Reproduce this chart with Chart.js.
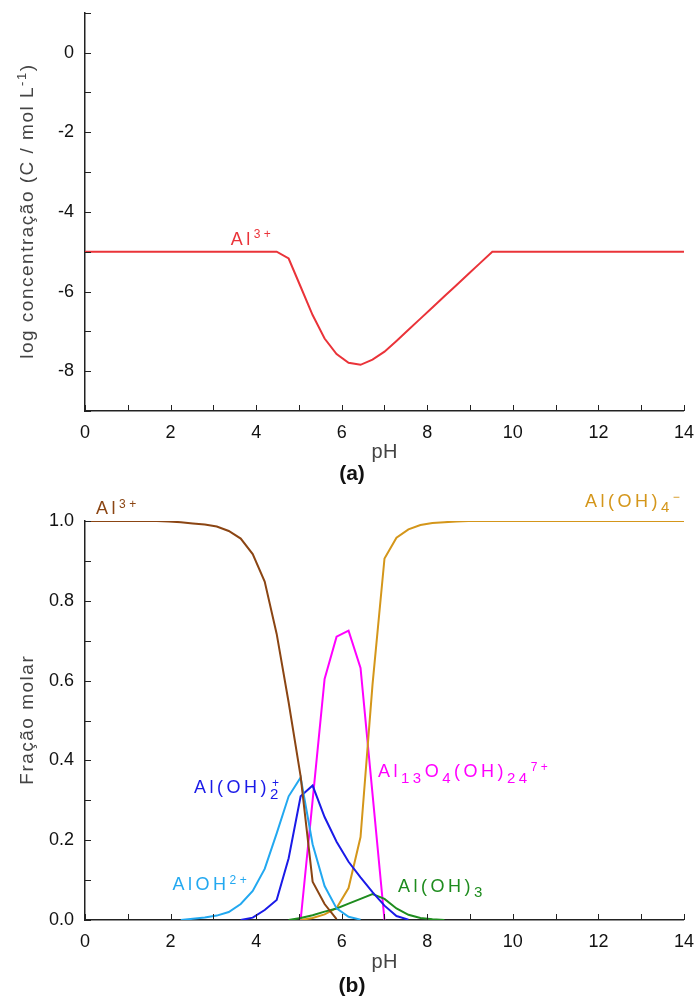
<!DOCTYPE html>
<html><head><meta charset="utf-8">
<script src="https://cdn.jsdelivr.net/npm/chart.js@4.4.1/dist/chart.umd.min.js"></script>
<style>
html,body{margin:0;padding:0;background:#fff;}
#wrap{position:relative;width:699px;height:1000px;overflow:hidden;}
canvas{position:absolute;left:0;}
</style></head><body>
<div id="wrap">
<canvas id="c1" width="705" height="499" style="top:-9px"></canvas>
<canvas id="c2" width="705" height="510" style="top:490px"></canvas>
</div>
<script>
// ---- data ----
const pH = [0,0.28,0.56,0.84,1.12,1.4,1.68,1.96,2.24,2.52,2.8,3.08,3.36,3.64,3.92,4.2,4.48,4.76,5.04,5.32,5.6,5.88,6.16,6.44,6.72,7,7.28,7.56,7.84,8.12,8.4,8.68,8.96,9.24,9.52,9.8,10.08,10.36,10.64,10.92,11.2,11.48,11.76,12.04,12.32,12.6,12.88,13.16,13.44,13.72,14];

const logAl3 = [-5,-5,-5,-5,-5,-5,-5,-5,-5,-5,-5,-5,-5,-5,-5,-5,-5,
  -5.17,-5.88,-6.59,-7.18,-7.57,-7.79,-7.84,-7.71,-7.51,-7.24,-6.96,-6.68,-6.40,-6.12,-5.84,-5.56,-5.28,-5.0,
  -5,-5,-5,-5,-5,-5,-5,-5,-5,-5,-5,-5,-5,-5,-5,-5];

const fracAl3 = [1,1,1,1,1,1,1,0.999,0.997,0.994,0.991,0.986,0.975,0.956,0.917,0.848,0.717,0.545,0.36,0.096,0.04,0.002,
  null,null,null,null,null,null,null,null,null,null,null,null,null,null,null,null,null,null,null,null,null,null,null,null,null,null,null,null,null];
const fracAlOH = [null,null,null,null,null,null,null,null,
  0.0,0.003,0.006,0.011,0.02,0.04,0.073,0.128,0.217,0.31,0.357,0.19,0.085,0.029,0.008,0.001,
  null,null,null,null,null,null,null,null,null,null,null,null,null,null,null,null,null,null,null,null,null,null,null,null,null,null,null];
const fracAlOH2 = [null,null,null,null,null,null,null,null,null,null,null,null,null,
  0.0,0.006,0.025,0.05,0.155,0.31,0.337,0.258,0.196,0.146,0.107,0.07,0.036,0.01,0.001,
  null,null,null,null,null,null,null,null,null,null,null,null,null,null,null,null,null,null,null,null,null,null,null];
const fracAl13 = [null,null,null,null,null,null,null,null,null,null,null,null,null,null,null,null,null,null,
  0.0,0.3,0.604,0.71,0.725,0.632,0.316,0.0,
  null,null,null,null,null,null,null,null,null,null,null,null,null,null,null,null,null,null,null,null,null,null,null,null,null];
const fracAlOH3 = [null,null,null,null,null,null,null,null,null,null,null,null,null,null,null,null,null,
  0.0,0.005,0.012,0.021,0.029,0.041,0.053,0.065,0.053,0.029,0.013,0.005,0.002,0.0,
  null,null,null,null,null,null,null,null,null,null,null,null,null,null,null,null,null,null,null,null];
const fracAlOH4 = [null,null,null,null,null,null,null,null,null,null,null,null,null,null,null,null,null,null,
  0.0,0.005,0.014,0.03,0.08,0.208,0.59,0.906,0.958,0.979,0.99,0.995,0.997,0.999,
  1,1,1,1,1,1,1,1,1,1,1,1,1,1,1,1,1,1,1];

const xTickLabels = [0,2,4,6,8,10,12,14];
const yTickLabelsA = [0,-2,-4,-6,-8];
const yTickLabelsB = ['0.0','0.2','0.4','0.6','0.8','1.0'];

// ---- helpers ----
const FONT = "'Liberation Sans', Arial, Helvetica, sans-serif";
Chart.defaults.font.family = FONT;
const pts = arr => pH.map((x,i)=>({x:x, y:arr[i]}));

function drawRich(ctx, parts, x, y, color, ls, size, align){
  size = size || 18;
  const subSize = Math.round(size*0.83), supSize = Math.round(size*0.67);
  const fnt = m => (m===0? size : (m<0? subSize : supSize)) + 'px ' + FONT;
  let w = 0, lastSubStart = null;
  const layout = [];
  parts.forEach(p => {
    const [txt, mode, stack] = p;
    ctx.font = fnt(mode);
    let cx = (stack && lastSubStart!==null) ? lastSubStart + 2 : w;
    const start = cx;
    for (const ch of txt){
      layout.push({ch, mode, x:cx});
      cx += ctx.measureText(ch).width + ls;
    }
    if (mode<0) lastSubStart = start; else lastSubStart = null;
    w = Math.max(w, cx);
  });
  w -= ls;
  let x0 = x;
  if (align==='center') x0 = x - w/2;
  ctx.fillStyle = color;
  ctx.textBaseline = 'alphabetic';
  ctx.textAlign = 'left';
  layout.forEach(g => {
    ctx.font = fnt(g.mode);
    const dy = g.mode===0 ? 0 : (g.mode<0 ? size*0.3 : -size*0.36);
    ctx.fillText(g.ch, x0 + g.x, y + dy);
  });
}

const deco = {
  id:'deco',
  afterDraw(chart, args, o){
    const ctx = chart.ctx, ca = chart.chartArea;
    const xs = chart.scales.x, ys = chart.scales.y;
    ctx.save();
    ctx.strokeStyle = '#222'; ctx.lineWidth = 1;
    ctx.beginPath();
    xs.ticks.forEach(t => { const px = Math.round(xs.getPixelForValue(t.value))+0.5; ctx.moveTo(px, ca.bottom); ctx.lineTo(px, ca.bottom-6); });
    ys.ticks.forEach(t => { const py = Math.round(ys.getPixelForValue(t.value))+0.5; ctx.moveTo(ca.left, py); ctx.lineTo(ca.left+6, py); });
    ctx.stroke();
    o.labels.forEach(l => drawRich(ctx, l.parts, xs.getPixelForValue(l.x), ys.getPixelForValue(l.y), l.color, 3.5, 18));
    drawRich(ctx, [['pH',0]], (ca.left+ca.right)/2, ca.bottom + o.pHdy, '#444', 0.5, 20, 'center');
    ctx.font = 'bold 21px ' + FONT; ctx.fillStyle = '#111'; ctx.textAlign='center'; ctx.textBaseline='alphabetic';
    ctx.fillText(o.caption, 352, ca.bottom + o.capdy);
    ctx.save();
    ctx.translate(26, (ca.top+ca.bottom)/2);
    ctx.rotate(-Math.PI/2);
    drawRich(ctx, o.ytitle, 0, 7, '#444', 1.5, 19, 'center');
    ctx.restore();
    ctx.restore();
  }
};

function baseScales(xH, ymin, ymax, ystep, ycb){
  return {
    x: { type:'linear', min:0, max:14,
      afterFit: s => { s.height = xH; },
      ticks: { stepSize:1, autoSkip:false, maxRotation:0, padding:11, color:'#111', font:{size:18},
        callback: v => xTickLabels.includes(v) ? String(v) : '' },
      grid: { drawOnChartArea:false, drawTicks:false },
      border: { color:'#222', width:1.5 } },
    y: { type:'linear', min:ymin, max:ymax,
      afterFit: s => { s.width = 85; },
      ticks: { stepSize:ystep, autoSkip:false, padding:11, color:'#111', font:{size:18}, callback: ycb },
      grid: { drawOnChartArea:false, drawTicks:false },
      border: { color:'#222', width:1.5 } }
  };
}
const line = (arr, color) => ({ data: pts(arr), borderColor: color, backgroundColor: color, borderWidth: 2, pointRadius: 0, tension: 0, spanGaps: false });

new Chart(document.getElementById('c1'), {
  type:'line',
  data:{ datasets:[ line(logAl3, '#EA3339') ] },
  options:{
    responsive:false, animation:false, devicePixelRatio:1,
    layout:{ padding:{ top:13, right:15, left:0, bottom:0 } },
    scales: baseScales(79, -9, 1, 1, v => yTickLabelsA.includes(v) ? String(v) : ''),
    plugins:{ legend:{display:false}, tooltip:{enabled:false},
      deco:{ caption:'(a)', pHdy:47, capdy:69,
        ytitle:[['log concentração (C / mol L',0],['-1',1],[')',0]],
        labels:[ {parts:[['Al',0],['3+',1]], x:3.405, y:-4.83, color:'#EA3339'} ] } }
  },
  plugins:[deco]
});

new Chart(document.getElementById('c2'), {
  type:'line',
  data:{ datasets:[
    line(fracAl3, '#8B4513'),
    line(fracAlOH, '#22A8F0'),
    line(fracAlOH2, '#1A1AE8'),
    line(fracAlOH3, '#1E8C1E'),
    line(fracAlOH4, '#D4961A'),
    line(fracAl13, '#FF00FF')
  ] },
  options:{
    responsive:false, animation:false, devicePixelRatio:1,
    layout:{ padding:{ top:31, right:15, left:0, bottom:0 } },
    scales: baseScales(80, 0, 1, 0.1, v => { const k = Math.round(v*10); const s = (k/10).toFixed(1); return yTickLabelsB.includes(s) ? s : ''; }),
    plugins:{ legend:{display:false}, tooltip:{enabled:false},
      deco:{ caption:'(b)', pHdy:48, capdy:72,
        ytitle:[['Fração molar',0]],
        labels:[
          {parts:[['Al',0],['3+',1]], x:0.257, y:1.0175, color:'#8B4513'},
          {parts:[['Al(OH)',0],['4',-1],['−',1]], x:11.686, y:1.035, color:'#D4961A'},
          {parts:[['Al(OH)',0],['2',-1],['+',1,true]], x:2.548, y:0.3175, color:'#1A1AE8'},
          {parts:[['AlOH',0],['2+',1]], x:2.045, y:0.075, color:'#22A8F0'},
          {parts:[['Al(OH)',0],['3',-1]], x:7.315, y:0.07, color:'#1E8C1E'},
          {parts:[['Al',0],['13',-1],['O',0],['4',-1],['(OH)',0],['24',-1],['7+',1]], x:6.848, y:0.3575, color:'#FF00FF'}
        ] } }
  },
  plugins:[deco]
});
</script>
</body></html>
